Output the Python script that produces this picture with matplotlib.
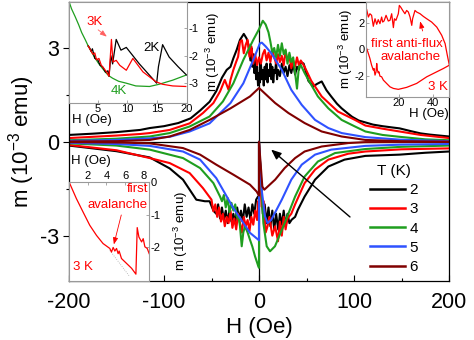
import matplotlib
matplotlib.use('Agg')
import matplotlib.pyplot as plt
from matplotlib.ticker import MultipleLocator, FixedLocator

plt.rcParams['font.family'] = ['Liberation Sans', 'DejaVu Sans']
plt.rcParams['mathtext.fontset'] = 'custom'
plt.rcParams['mathtext.rm'] = 'Liberation Sans'
plt.rcParams['mathtext.it'] = 'Liberation Sans:italic'
plt.rcParams['axes.unicode_minus'] = False

# ---------------- main data (H in Oe, m in 1e-3 emu) ----------------
temps = ['2', '3', '4', '5', '6']

H_up_2 = [-200, -175, -150, -125, -115, -100, -85, -72, -62, -52, -45, -39, -34, -30, -27, -23.5, -20, -16, -13, -11, -9, -8, -7, -6, -5, -4, -3, -2, -1, 0, 1, 2, 3, 4, 5, 6, 7, 8, 9, 10, 11, 12, 13, 14, 15, 16, 17, 18, 19, 20, 22, 24, 26, 28, 30, 32, 34, 36, 38, 40, 42, 44, 47, 52, 57, 61, 66, 71, 76, 82, 87, 93, 98, 105, 112, 120, 130, 140, 148, 160, 170, 180, 190, 200]
m_up_2 = [0.22, 0.26, 0.31, 0.38, 0.44, 0.5, 0.6, 0.75, 1.0, 1.28, 1.62, 2.05, 2.3, 2.4, 2.67, 2.94, 3.26, 3.45, 3.3, 3.1, 2.6, 3.0, 2.4, 2.8, 2.2, 2.6, 2.0, 2.4, 1.8, 2.2, 1.9, 2.5, 2.0, 2.3, 1.8, 2.4, 2.0, 2.5, 1.9, 2.3, 2.1, 2.5, 2.0, 2.4, 1.9, 2.3, 2.2, 2.6, 2.0, 2.3, 2.1, 2.5, 2.2, 2.4, 2.1, 2.45, 2.2, 2.5, 2.15, 2.4, 2.3, 2.55, 2.5, 1.95, 1.77, 1.85, 1.93, 1.65, 1.45, 1.22, 1.07, 0.92, 0.8, 0.68, 0.62, 0.55, 0.5, 0.46, 0.43, 0.34, 0.27, 0.23, 0.2, 0.17]

H_up_3 = [-200, -175, -150, -125, -115, -94, -73, -59, -48, -41, -36, -32, -30, -27, -24, -22, -20, -18, -16, -14, -12, -10, -8, -6, -4, -2, 0, 2, 4, 6, 8, 10, 12, 14, 16, 18, 20, 22, 24, 26, 28, 30, 32, 34, 36, 38, 40, 42, 44, 48, 55, 66, 83, 101, 112, 130, 148, 170, 185, 200]
m_up_3 = [0.12, 0.16, 0.2, 0.25, 0.28, 0.38, 0.59, 0.92, 1.24, 1.61, 1.98, 1.66, 1.98, 2.3, 2.56, 2.72, 3.2, 3.25, 2.83, 3.1, 3.26, 2.72, 3.05, 2.5, 2.8, 2.45, 2.7, 2.5, 2.8, 2.94, 2.6, 2.85, 2.55, 2.95, 2.7, 2.5, 2.8, 2.55, 2.75, 2.45, 2.9, 2.6, 2.75, 2.35, 2.6, 2.4, 2.7, 2.45, 2.6, 2.4, 1.95, 1.45, 0.97, 0.7, 0.52, 0.42, 0.33, 0.22, 0.17, 0.12]

H_up_4 = [-200, -150, -115, -94, -73, -52, -38, -27, -16.5, -6, 0, 4, 7, 10, 12, 14, 16, 18, 20, 22, 24, 26, 28, 30, 32, 34, 36, 38, 40, 42, 44, 48, 52, 62, 73, 87, 101, 112, 130, 148, 175, 200]
m_up_4 = [0.05, 0.1, 0.17, 0.28, 0.49, 0.81, 1.29, 1.87, 2.62, 3.26, 3.6, 3.87, 3.75, 3.5, 3.2, 2.85, 3.0, 2.7, 3.1, 2.75, 3.15, 2.8, 2.95, 2.5, 2.85, 2.55, 2.7, 2.2, 1.7, 2.4, 2.45, 2.2, 1.98, 1.45, 1.07, 0.7, 0.49, 0.33, 0.22, 0.16, 0.08, 0.05]

H_up_5 = [-200, -150, -115, -94, -73, -52, -30, -16.5, -6, 1, 3, 7, 13, 24, 34, 45, 59, 73, 87, 112, 148, 200]
m_up_5 = [0.03, 0.06, 0.11, 0.16, 0.33, 0.59, 1.24, 1.87, 2.62, 3.15, 3.17, 3.05, 2.83, 2.3, 1.66, 1.18, 0.7, 0.44, 0.28, 0.15, 0.07, 0.02]

H_up_6 = [-200, -150, -115, -94, -73, -52, -30, -9.5, 0, 17, 31, 48, 66, 87, 112, 150, 200]
m_up_6 = [0.01, 0.02, 0.06, 0.17, 0.38, 0.7, 1.07, 1.45, 1.72, 1.24, 0.92, 0.6, 0.33, 0.17, 0.06, 0.02, 0.0]

H_lo_2 = [-200, -150, -115, -94, -80, -73, -66, -57, -52, -48, -45, -43, -41, -39, -37, -35, -33, -31, -29, -27, -25, -23, -21, -19, -17, -15, -13, -11, -9, -7, -5, -3, -1, 0, 0, 2.8, 4, 6, 8, 10, 12, 14, 16, 18, 20.3, 22, 24, 26, 28, 30, 32, 34.4, 38, 41, 48, 59, 73, 90, 112, 148, 175, 200]
m_lo_2 = [-0.12, -0.3, -0.5, -0.85, -1.21, -1.53, -1.85, -1.9, -1.9, -2.2, -2.3, -2.0, -2.45, -2.1, -2.5, -2.2, -2.6, -2.15, -2.55, -2.3, -2.6, -2.1, -2.45, -2.2, -2.55, -2.0, -2.4, -2.1, -2.5, -2.0, -2.3, -1.85, -1.75, -1.77, 0.0, -1.7, -2.3, -2.0, -2.6, -2.1, -2.7, -2.2, -2.8, -2.3, -2.81, -2.3, -2.65, -2.2, -2.7, -2.3, -2.6, -2.49, -2.4, -2.17, -1.75, -1.21, -0.79, -0.57, -0.45, -0.41, -0.35, -0.31]

H_lo_3 = [-200, -150, -115, -94, -73, -59, -50, -48, -46, -44, -42, -40, -38, -36, -34, -32, -30, -28, -26, -24, -22, -20, -18, -16, -14, -12, -10, -8, -6, -4, -2, -1, 0, 0, 2.8, 5, 7, 9, 11, 14, 17, 20, 22, 24, 26, 28, 30, 34, 38, 48, 59, 73, 94, 112, 150, 200]
m_lo_3 = [-0.1, -0.27, -0.52, -0.68, -1.0, -1.48, -1.85, -2.22, -2.0, -2.4, -2.1, -2.55, -2.3, -2.7, -2.4, -2.6, -2.2, -2.75, -2.45, -2.8, -2.3, -2.6, -2.9, -2.4, -2.7, -2.5, -2.85, -2.4, -2.65, -2.2, -2.5, -1.9, -2.1, 0.0, -2.07, -1.9, -2.9, -2.7, -2.4, -3.0, -2.7, -3.18, -2.55, -3.0, -2.4, -2.8, -2.45, -2.3, -2.0, -1.32, -0.89, -0.57, -0.38, -0.31, -0.24, -0.21]

H_lo_4 = [-200, -150, -115, -80, -62, -48, -41, -39, -37, -35, -33, -31, -29, -27, -25, -23.5, -21, -20, -18.2, -16.5, -14.7, -12, -9.5, -7, -4.2, -0.7, 0, 0, 4.6, 8.1, 11.6, 16.8, 27, 38, 48, 62, 80, 112, 150, 200]
m_lo_4 = [-0.05, -0.12, -0.25, -0.52, -0.84, -1.32, -1.75, -1.9, -1.7, -2.1, -1.8, -2.25, -1.95, -2.2, -2.0, -2.38, -2.5, -2.7, -3.34, -2.9, -2.7, -2.9, -3.13, -3.35, -3.66, -3.98, -4.03, 0.0, -2.6, -3.34, -3.5, -3.34, -2.6, -1.75, -1.11, -0.63, -0.36, -0.23, -0.16, -0.12]

H_lo_5 = [-200, -150, -115, -80, -62, -45, -27, -9.5, -0.7, 0, 0, 2.8, 6.3, 9, 13, 24, 34, 45, 59, 76, 112, 150, 200]
m_lo_5 = [-0.03, -0.07, -0.13, -0.31, -0.57, -1.16, -2.12, -2.91, -3.13, -3.15, 0.0, -1.53, -2.38, -2.6, -2.49, -1.85, -1.21, -0.73, -0.41, -0.25, -0.13, -0.09, -0.07]

H_lo_6 = [-200, -150, -115, -80, -62, -45, -27, -9.5, -2.5, 0, 0, 3.5, 5.6, 17, 27, 38, 48, 66, 94, 112, 200]
m_lo_6 = [-0.01, -0.02, -0.05, -0.2, -0.41, -0.73, -1.05, -1.37, -1.59, -1.72, 0.0, -1.43, -1.53, -1.21, -0.84, -0.52, -0.31, -0.15, -0.04, -0.01, 0.0]

# ---------------- inset 1 (low-field, upper-left) ----------------
ins1_H_common = [0.2, 0.6, 1.2, 1.8, 2.3, 2.9, 3.4]
ins1_m_common = [-0.05, -0.3, -0.58, -0.88, -1.16, -1.42, -1.65]
ins1_H_2K = [3.4, 3.6, 3.9, 4.1, 4.5, 5.0, 5.4, 5.8, 6.3, 6.7, 6.9, 7.2, 7.5, 8.1, 8.9, 9.8, 12.0, 14.9, 15.2, 15.9, 17.0, 18.5, 19.9]
ins1_m_2K = [-1.65, -1.7, -1.85, -1.75, -2.1, -2.15, -2.35, -2.4, -2.6, -2.55, -2.75, -2.0, -2.3, -1.41, -1.8, -1.7, -2.3, -3.0, -2.4, -1.6, -2.05, -2.4, -2.7]
ins1_H_3K = [3.4, 4.0, 4.2, 4.5, 4.8, 5.2, 5.6, 6.0, 6.5, 6.9, 7.3, 7.55, 8.1, 8.7, 9.8, 10.9, 12.6, 14.8, 15.9, 17.6, 19.8]
ins1_m_3K = [-1.65, -1.88, -1.95, -1.9, -2.15, -2.1, -2.35, -2.45, -2.6, -2.75, -1.41, -2.23, -2.17, -2.35, -2.53, -2.1, -2.59, -2.95, -3.04, -3.1, -3.12]
ins1_H_4K = [3.4, 4.0, 4.5, 5.1, 5.7, 6.3, 6.8, 7.5, 8.5, 9.8, 11.4, 13.7, 15.3, 17.6, 19.8]
ins1_m_4K = [-1.65, -1.88, -2.07, -2.27, -2.44, -2.6, -2.72, -2.82, -2.93, -3.0, -3.1, -3.12, -3.04, -2.89, -2.71]

# ---------------- inset 2 (3 K loop, upper-right) ----------------
ins2_H = [1.0, 2.0, 2.9, 3.9, 4.9, 5.9, 6.9, 7.8, 8.8, 9.8, 10.4, 11.2, 12.4, 13.7, 14.7, 15.7, 16.7, 17.3, 18.2, 19.6, 20.2, 21.0, 22.2, 23.5, 24.5, 25.5, 26.5, 27.5, 28.0, 29.4, 30.4, 32.4, 34.3, 36.3, 39.2, 42.2, 45.1, 47.1, 48.4, 49.6,
          46.1, 42.2, 36.3, 30.4, 24.5, 19.6, 16.7, 14.7, 12.7, 10.8, 9.8, 8.8, 8.2, 7.8, 7.3, 6.9, 6.5, 5.9, 5.3, 4.9, 3.9, 2.9, 2.0, 1.0]
ins2_m = [3.0, 2.44, 2.69, 2.57, 1.74, 2.31, 1.89, 2.24, 1.94, 2.44, 2.06, 2.14, 2.57, 2.14, 2.19, 2.69, 1.64, 2.31, 2.19, 2.69, 3.32, 3.19, 2.94, 2.69, 2.94, 2.82, 2.44, 1.81, 2.31, 2.94, 2.82, 2.69, 2.49, 2.31, 2.06, 1.68, 1.06, 0.43, -0.45, -1.21,
          -1.46, -1.71, -2.09, -2.59, -2.89, -3.04, -2.97, -2.85, -2.59, -2.34, -2.09, -2.04, -1.71, -1.79, -1.58, -1.08, -1.71, -1.96, -1.46, -1.58, -1.21, -0.70, -0.33, 0.05]

# ---------------- inset 3 (3 K virgin, lower-left) ----------------
ins3_H = [0.07, 0.79, 1.5, 2.22, 2.94, 3.64, 4.36, 4.54, 4.72, 4.9, 5.08, 5.25, 5.36, 5.61, 6.15, 6.69, 7.15, 7.29, 7.47, 7.76, 7.93, 8.11, 8.36, 8.57]
ins3_m = [-0.04, -0.51, -0.92, -1.33, -1.64, -1.89, -2.04, -2.15, -2.01, -2.12, -2.04, -2.2, -2.12, -2.35, -2.5, -2.65, -2.83, -1.4, -1.69, -1.84, -1.74, -1.99, -2.04, -2.2]
ins3_fit_H = [4.36, 6.5]
ins3_fit_m = [-2.1, -2.91]

# ---------------- styling ----------------
colors = {'2': '#000000', '3': '#ff0000', '4': '#1f9e1f', '5': '#2f52ff', '6': '#800000'}
RED = '#ff0000'
GRAY = '#999999'
W, HH = 474.0, 340.0


def fr(x0, y0, x1, y1):
    return [x0 / W, 1 - y1 / HH, (x1 - x0) / W, (y1 - y0) / HH]


fig = plt.figure(figsize=(4.74, 3.40), dpi=100)
ax = fig.add_axes(fr(69, 2, 449, 281))

ups = {'2': (H_up_2, m_up_2), '3': (H_up_3, m_up_3), '4': (H_up_4, m_up_4), '5': (H_up_5, m_up_5), '6': (H_up_6, m_up_6)}
los = {'2': (H_lo_2, m_lo_2), '3': (H_lo_3, m_lo_3), '4': (H_lo_4, m_lo_4), '5': (H_lo_5, m_lo_5), '6': (H_lo_6, m_lo_6)}

ax.axhline(0, color='black', lw=0.9, zorder=1)
ax.axvline(0, color='black', lw=0.9, zorder=1)
handles = {}
for t in temps:
    h, = ax.plot(*ups[t], color=colors[t], lw=1.5, zorder=2, solid_joinstyle='round')
    ax.plot(*los[t], color=colors[t], lw=1.5, zorder=2, solid_joinstyle='round')
    handles[t] = h

ax.set_xlim(-200, 200)
ax.set_ylim(-4.45, 4.47)
ax.xaxis.set_major_locator(FixedLocator([-200, -100, 0, 100, 200]))
ax.xaxis.set_minor_locator(MultipleLocator(50))
ax.yaxis.set_major_locator(FixedLocator([-3, 0, 3]))
ax.yaxis.set_minor_locator(FixedLocator([-4.5, -1.5, 1.5, 4.5]))
ax.tick_params(axis='x', which='major', direction='in', length=4, width=0.8, labelsize=15.5, pad=8)
ax.tick_params(axis='x', which='minor', direction='in', length=2.5, width=0.8)
ax.tick_params(axis='y', which='major', direction='out', length=4, width=0.8, labelsize=15.5, pad=3)
ax.tick_params(axis='y', which='minor', direction='out', length=2.5, width=0.8)
for s in ax.spines.values():
    s.set_linewidth(0.9)
ax.set_xlabel('H (Oe)', fontsize=16, labelpad=3)
ax.set_ylabel('m (10$^{-3}$ emu)', fontsize=16, labelpad=2)

ax.annotate('', xy=(10.5, -0.19), xytext=(98, -2.46),
            arrowprops=dict(arrowstyle='-|>,head_length=0.6,head_width=0.25', color='black', lw=1.0), zorder=3)

leg = ax.legend([handles[t] for t in temps], temps, title='T (K)', loc='upper left',
                bbox_to_anchor=(370 / W, 1 - 164 / HH), bbox_transform=fig.transFigure,
                frameon=False, fontsize=11, title_fontsize=11, handlelength=2.3,
                handletextpad=0.3, labelspacing=0.34, borderpad=0, borderaxespad=0)
for ln in leg.get_lines():
    ln.set_linewidth(1.8)

# ---- inset 1
a1 = fig.add_axes(fr(69, 2, 187, 103), facecolor='white')
a1.plot(ins1_H_common, ins1_m_common, color=colors['4'], lw=0.9)
a1.plot(ins1_H_4K, ins1_m_4K, color=colors['4'], lw=0.9)
a1.plot(ins1_H_2K, ins1_m_2K, color='black', lw=0.9)
a1.plot(ins1_H_3K, ins1_m_3K, color=RED, lw=0.9)
a1.set_xlim(0.17, 20)
a1.set_ylim(-3.72, -0.05)
a1.xaxis.set_major_locator(FixedLocator([5, 10, 15, 20]))
a1.yaxis.set_major_locator(FixedLocator([-3, -2, -1]))
a1.yaxis.tick_right()
a1.yaxis.set_label_position('right')
a1.tick_params(direction='in', length=2, width=0.6, color=GRAY, labelsize=8, pad=1)
a1.tick_params(axis='x', pad=0.5)
for s in a1.spines.values():
    s.set_color(GRAY)
    s.set_linewidth(0.8)
a1.set_ylabel('m (10$^{-3}$ emu)', fontsize=9.5, labelpad=4)
a1.text(4.4, -0.77, '3K', color=RED, fontsize=9.5, ha='center', va='center')
a1.annotate('', xy=(6.9, -1.37), xytext=(4.7, -1.0),
            arrowprops=dict(arrowstyle='-|>,head_length=0.4,head_width=0.15', color='#ff6060', lw=0.6))
a1.text(14.0, -1.73, '2K', color='black', fontsize=9.5, ha='center', va='center')
a1.text(8.6, -3.28, '4K', color=colors['4'], fontsize=9.5, ha='center', va='center')
fig.text(72 / W, 1 - 120 / HH, 'H (Oe)', fontsize=9.5, ha='left', va='center')

# ---- inset 2
a2 = fig.add_axes(fr(366, 2, 449, 97), facecolor='white')
a2.plot(ins2_H, ins2_m, color=RED, lw=0.9)
a2.set_xlim(0.6, 49.4)
a2.set_ylim(-3.62, 3.58)
a2.xaxis.set_major_locator(FixedLocator([20, 40]))
a2.yaxis.set_major_locator(FixedLocator([-2, 0, 2]))
a2.tick_params(direction='in', length=2, width=0.6, color=GRAY, labelsize=8, pad=1)
for s in a2.spines.values():
    s.set_color(GRAY)
    s.set_linewidth(0.8)
a2.set_ylabel('m (10$^{-3}$ emu)', fontsize=9.5, labelpad=0)
a2.text(24.5, 0.43, 'first anti-flux', color=RED, fontsize=9.5, ha='center', va='center')
a2.text(27.0, -0.58, 'avalanche', color=RED, fontsize=9.5, ha='center', va='center')
a2.text(48.5, -2.9, '3 K', color=RED, fontsize=9.5, ha='right', va='center')
a2.annotate('', xy=(32.0, 2.32), xytext=(34.3, 1.18),
            arrowprops=dict(arrowstyle='-|>,head_length=0.4,head_width=0.15', color=RED, lw=0.6))
fig.text(449 / W, 1 - 114 / HH, 'H (Oe)', fontsize=9.5, ha='right', va='center')

# ---- inset 3
a3 = fig.add_axes(fr(69, 182, 149, 281), facecolor='white')
a3.plot(ins3_fit_H, ins3_fit_m, color='#aaaaaa', lw=0.6, ls=':')
a3.plot(ins3_H, ins3_m, color=RED, lw=0.9)
a3.set_xlim(0, 8.55)
a3.set_ylim(-3.04, 0)
a3.xaxis.tick_top()
a3.yaxis.tick_right()
a3.yaxis.set_label_position('right')
a3.xaxis.set_major_locator(FixedLocator([2, 4, 6, 8]))
a3.yaxis.set_major_locator(FixedLocator([-2, -1, 0]))
a3.tick_params(direction='in', length=2, width=0.6, color=GRAY, labelsize=8, pad=1)
for s in a3.spines.values():
    s.set_color(GRAY)
    s.set_linewidth(0.8)
a3.set_ylabel('m (10$^{-3}$ emu)', fontsize=9.5, labelpad=8)
a3.text(8.45, -0.23, 'first', color=RED, fontsize=9.5, ha='right', va='center')
a3.text(8.45, -0.72, 'avalanche', color=RED, fontsize=9.5, ha='right', va='center')
a3.text(1.47, -2.61, '3 K', color=RED, fontsize=9.5, ha='center', va='center')
a3.annotate('', xy=(4.72, -2.0), xytext=(5.66, -0.93),
            arrowprops=dict(arrowstyle='-|>,head_length=0.4,head_width=0.15', color=RED, lw=0.6))
fig.text(71 / W, 1 - 161 / HH, 'H (Oe)', fontsize=9.5, ha='left', va='center')

fig.savefig('out.png', dpi=100)
